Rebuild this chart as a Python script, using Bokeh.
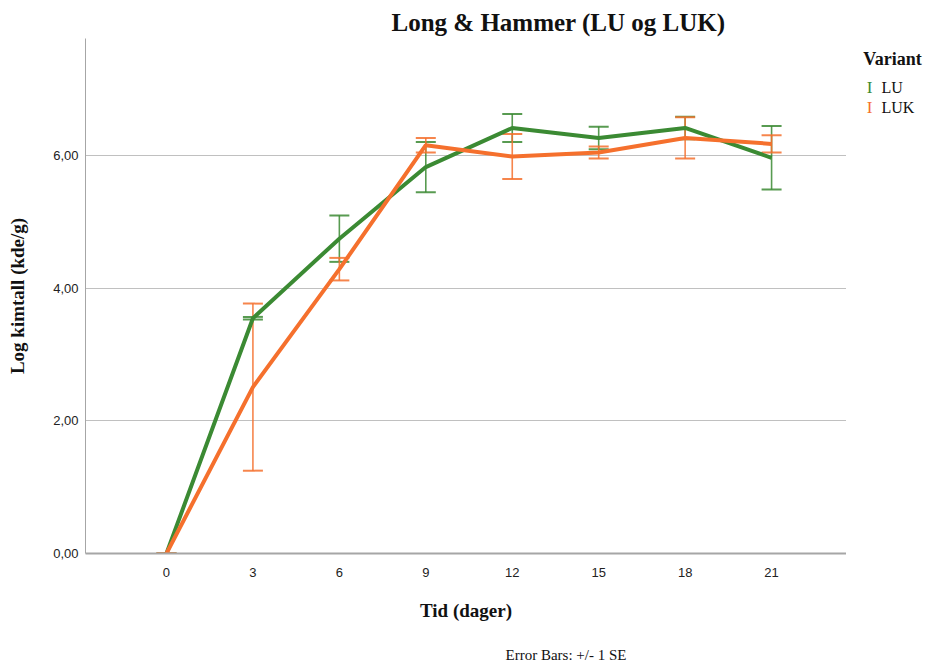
from bokeh.plotting import figure
from bokeh.layouts import row
from bokeh.models import Range1d, Whisker, ColumnDataSource, FixedTicker, TeeHead, Title
from bokeh.core.properties import value
from bokeh.embed import file_html
from bokeh.resources import INLINE

# ---- data ----
days = [0, 3, 6, 9, 12, 15, 18, 21]
lu_mean = [0.0, 3.55, 4.75, 5.83, 6.42, 6.27, 6.42, 5.97]
lu_se = [0.0, 0.02, 0.35, 0.38, 0.21, 0.17, 0.17, 0.48]
luk_mean = [0.0, 2.51, 4.29, 6.16, 5.99, 6.05, 6.27, 6.18]
luk_se = [0.0, 1.26, 0.17, 0.11, 0.34, 0.09, 0.31, 0.13]
series_names = ["LU", "LUK"]
y_ticks = [0, 2, 4, 6]
y_tick_labels = ["0,00", "2,00", "4,00", "6,00"]

GREEN = "#3b8a33"
ORANGE = "#f5702d"
SERIF = "Liberation Serif"
SANS = "Liberation Sans"

H = 664
MAIN_W = 846
LEG_W = 927 - MAIN_W
TOP, BOTTOM = 38, 111

p = figure(width=MAIN_W, height=H, x_range=Range1d(-2.81, 23.6), y_range=Range1d(0, 7.77),
           min_border_left=85, min_border_right=0, min_border_top=TOP, min_border_bottom=BOTTOM,
           output_backend="svg", toolbar_location=None, tools="")
p.outline_line_color = None
p.background_fill_color = "white"
p.border_fill_color = "white"

# titles
p.add_layout(Title(text="Long & Hammer (LU og LUK)", align="left", offset=306,
                   text_font=SERIF, text_font_size="25px", text_font_style="bold",
                   text_color="#111111", standoff=5), "above")
p.add_layout(Title(text="\nError Bars: +/- 1 SE", align="left", offset=420,
                   text_font=SERIF, text_font_size="15px", text_font_style="normal",
                   text_line_height=1.35, vertical_align="bottom",
                   text_color="#111111", standoff=0), "below")

# axes
p.xaxis.ticker = FixedTicker(ticks=days)
p.yaxis.ticker = FixedTicker(ticks=y_ticks)
p.yaxis.major_label_overrides = {t: s for t, s in zip(y_ticks, y_tick_labels)}
for ax in (p.xaxis[0], p.yaxis[0]):
    ax.major_tick_out = 0
    ax.major_tick_in = 0
    ax.minor_tick_out = 0
    ax.minor_tick_in = 0
    ax.axis_line_color = "#a6a6a6"
    ax.major_label_text_font = SANS
    ax.major_label_text_font_size = "13px"
    ax.major_label_text_color = "#222222"
    ax.axis_label_text_font = SERIF
    ax.axis_label_text_font_style = "bold"
    ax.axis_label_text_font_size = "19px"
    ax.axis_label_text_color = "#111111"
p.xaxis.axis_line_width = 2
p.xaxis.major_label_standoff = 14
p.xaxis.axis_label = "Tid (dager)"
p.xaxis.axis_label_standoff = 20
p.yaxis.major_label_standoff = 7
p.yaxis.axis_label = "Log kimtall (kde/g)"
p.yaxis.axis_label_standoff = 22

p.xgrid.grid_line_color = None
p.ygrid.grid_line_color = "#c0c0c0"
p.ygrid.grid_line_width = 1

src_lu = ColumnDataSource(dict(x=days, y=lu_mean,
                               lo=[m - s for m, s in zip(lu_mean, lu_se)],
                               hi=[m + s for m, s in zip(lu_mean, lu_se)]))
src_luk = ColumnDataSource(dict(x=days, y=luk_mean,
                                lo=[m - s for m, s in zip(luk_mean, luk_se)],
                                hi=[m + s for m, s in zip(luk_mean, luk_se)]))

p.line("x", "y", source=src_lu, line_color=GREEN, line_width=4)
p.line("x", "y", source=src_luk, line_color=ORANGE, line_width=4)

for src, col in ((src_lu, GREEN), (src_luk, ORANGE)):
    w = Whisker(source=src, base="x", lower="lo", upper="hi", dimension="height",
                line_color=col, line_width=1.6, line_alpha=0.85,
                upper_head=TeeHead(size=20, line_color=col, line_width=2, line_alpha=0.85),
                lower_head=TeeHead(size=20, line_color=col, line_width=2, line_alpha=0.85))
    p.add_layout(w)

# ---- legend panel (right side); its frame is aligned with the main frame ----
q = figure(width=LEG_W, height=H, x_range=Range1d(0, LEG_W), y_range=Range1d(H - BOTTOM, TOP),
           x_axis_type=None, y_axis_type=None, min_border=0,
           output_backend="svg", toolbar_location=None, tools="")
q.outline_line_color = None
q.grid.grid_line_color = None
q.background_fill_color = "white"
q.border_fill_color = "white"

q.text(x=[46], y=[58], text=["Variant"], text_font=value(SERIF), text_font_size="18px",
       text_font_style="bold", text_align="center", text_baseline="middle", text_color="#111111")
q.text(x=[23, 23], y=[87, 107], text=["I", "I"], text_font=value(SERIF), text_font_size="17px",
       text_align="center", text_baseline="middle", text_color=[GREEN, ORANGE])
q.text(x=[35, 35], y=[87, 107], text=series_names, text_font=value(SERIF), text_font_size="16px",
       text_align="left", text_baseline="middle", text_color="#111111")

layout = row(p, q, spacing=0)
open("out.html", "w").write(file_html(layout, INLINE))
